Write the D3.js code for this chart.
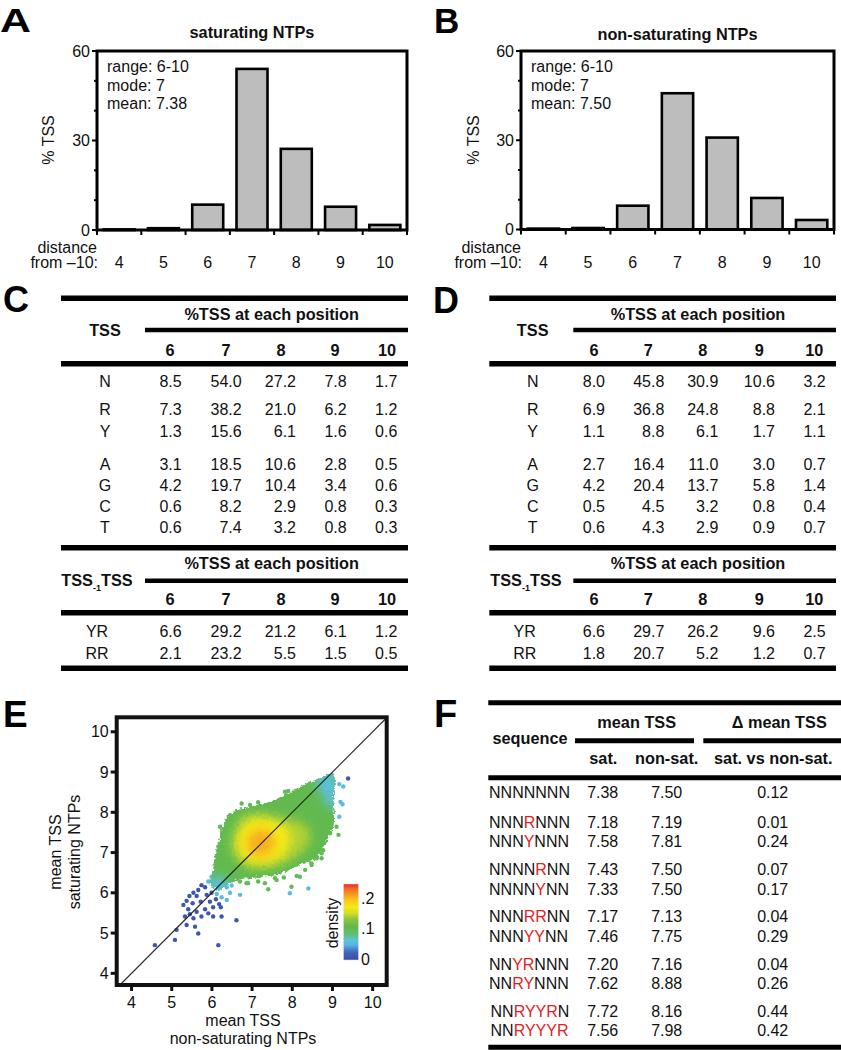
<!DOCTYPE html>
<html><head><meta charset="utf-8">
<script src="https://cdn.jsdelivr.net/npm/d3@7"></script>
<style>
body{margin:0;background:#fff;}
svg{font-family:"Liberation Sans",Arial,Helvetica,sans-serif;}
</style></head><body>
<svg id="fig" width="841" height="1050"></svg>
<script>
// ---------------- DATA ----------------
const distances = ["4","5","6","7","8","9","10"];
const satPct = [0.2, 0.6, 8.5, 54.0, 27.2, 7.8, 1.7];
const nonSatPct = [0.3, 0.5, 8.0, 45.8, 30.9, 10.6, 3.2];
const pctTicks = [0, 30, 60];
const pctMinorTicks = [10, 20, 40, 50];
const satStats = ["range: 6-10", "mode: 7", "mean: 7.38"];
const nonSatStats = ["range: 6-10", "mode: 7", "mean: 7.50"];

const positions = ["6","7","8","9","10"];
const tssBases = ["N","R","Y","A","G","C","T"];
const satTSS = [
  ["8.5","54.0","27.2","7.8","1.7"],
  ["7.3","38.2","21.0","6.2","1.2"],
  ["1.3","15.6","6.1","1.6","0.6"],
  ["3.1","18.5","10.6","2.8","0.5"],
  ["4.2","19.7","10.4","3.4","0.6"],
  ["0.6","8.2","2.9","0.8","0.3"],
  ["0.6","7.4","3.2","0.8","0.3"]
];
const nonSatTSS = [
  ["8.0","45.8","30.9","10.6","3.2"],
  ["6.9","36.8","24.8","8.8","2.1"],
  ["1.1","8.8","6.1","1.7","1.1"],
  ["2.7","16.4","11.0","3.0","0.7"],
  ["4.2","20.4","13.7","5.8","1.4"],
  ["0.5","4.5","3.2","0.8","0.4"],
  ["0.6","4.3","2.9","0.9","0.7"]
];
const dinucs = ["YR","RR"];
const satDinuc = [["6.6","29.2","21.2","6.1","1.2"],["2.1","23.2","5.5","1.5","0.5"]];
const nonSatDinuc = [["6.6","29.7","26.2","9.6","2.5"],["1.8","20.7","5.2","1.2","0.7"]];

// panel E: scatter of mean TSS (x: non-saturating, y: saturating)
const meanTicks = [4,5,6,7,8,9,10];
const densityTicks = [0, 0.1, 0.2];
const densityTickLabels = ["0", ".1", ".2"];
const densityStops = [[0,"#3d4ea1"],[0.025,"#4264b9"],[0.05,"#59b5e9"],[0.065,"#5cc5d6"],[0.085,"#5fbf72"],
  [0.11,"#63b947"],[0.135,"#8dc63f"],[0.155,"#d6de27"],[0.175,"#f5e917"],[0.2,"#f8c11b"],[0.215,"#f59a20"],
  [0.235,"#f06a24"],[0.25,"#e8262a"]];
const cloudOuter = [[9.02,8.97],[9.03,8.22],[9.02,7.64],[8.90,7.39],[8.73,7.06],[8.52,6.81],[8.27,6.73],[7.94,6.57],
  [7.61,6.44],[7.28,6.40],[6.95,6.36],[6.61,6.32],[6.37,6.19],[6.12,6.07],[5.95,6.24],[5.99,6.40],[6.03,6.57],
  [6.07,6.90],[6.20,7.39],[6.32,7.81],[6.61,8.06],[6.95,8.14],[7.28,8.22],[7.69,8.35],[8.11,8.59],[8.44,8.76],[8.77,8.88]];
const cloudOuterDensity = 0.105;
const cloudTipTop = [[8.61,8.84],[9.04,9.01],[9.06,8.06],[8.86,8.22],[8.69,8.55]];
const cloudTipBottom = [[5.91,6.32],[6.20,6.40],[6.45,6.19],[6.20,5.95],[5.95,6.07]];
const cloudTipDensity = 0.06;
const cloudLime = [[6.61,7.64],[6.78,7.89],[7.20,7.97],[7.61,7.89],[8.02,7.81],[8.36,7.64],[8.44,7.31],[8.19,6.98],
  [7.78,6.73],[7.28,6.61],[6.86,6.65],[6.57,6.90],[6.49,7.23]];
const cloudLimeDensity = 0.145;
const cloudYellow = [[6.70,7.56],[6.95,7.81],[7.28,7.85],[7.69,7.73],[7.94,7.48],[7.86,7.06],[7.53,6.77],[7.11,6.73],
  [6.78,6.86],[6.61,7.19]];
const cloudYellowDensity = 0.175;
const cloudOrange = [[6.90,7.39],[7.07,7.56],[7.32,7.58],[7.53,7.44],[7.57,7.19],[7.44,6.98],[7.24,6.90],[6.99,6.98],[6.86,7.19]];
const cloudOrangeDensity = 0.207;
const greenPoints = [[7.82,8.51],[7.90,8.53],[7.15,8.25],[6.95,8.18],[6.66,7.97],[6.45,7.93],[6.20,7.64],[7.32,6.24],
  [7.40,6.09],[7.61,6.32],[7.79,6.38],[7.98,6.15],[8.19,6.40],[8.48,6.73],[8.61,6.86],[8.73,6.98],[9.10,7.64],
  [9.15,7.44],[6.90,6.24],[6.70,6.28],[6.74,8.22],[7.44,8.14],[7.61,8.22],[6.45,7.81],[6.28,7.48],[6.16,7.15],
  [6.10,6.73],[8.94,7.48],[8.77,7.06],[8.73,6.86],[6.86,6.24],[7.15,6.28],[7.57,6.36],[8.32,6.57],[8.11,6.42],[8.48,6.69]];
const cyanPoints = [[9.17,8.70],[9.27,8.64],[9.20,8.26],[9.25,8.20],[9.17,7.89],[6.70,5.95],[7.94,5.99],[8.40,6.11],
  [6.03,6.32],[6.24,6.24],[6.37,6.14],[6.45,6.00],[6.24,5.89],[6.37,5.82],[6.12,5.97],[6.49,6.18],[5.99,6.40],[5.91,6.28]];
const bluePoints = [[9.39,8.84],[5.74,6.19],[5.83,6.14],[5.66,6.07],[5.54,6.00],[5.44,5.92],[5.62,5.92],[5.87,5.95],
  [5.99,6.00],[5.37,5.80],[5.52,5.74],[5.72,5.78],[5.95,5.78],[6.10,5.84],[6.18,5.72],[5.41,5.59],[5.62,5.53],
  [5.83,5.59],[6.03,5.64],[6.22,5.64],[5.33,5.41],[5.54,5.37],[5.74,5.41],[6.03,5.41],[6.24,5.41],[5.45,5.47],
  [5.37,5.20],[5.58,5.16],[5.12,5.08],[5.66,4.99],[5.08,4.83],[4.58,4.70],[6.16,4.70],[6.61,5.32],[5.29,5.70],[5.91,5.49]];
const greenDensity = 0.1, cyanDensity = 0.055, blueDensity = 0.01;

// panel F
const fSeqs = ["NNNNNNN","NNNRNNN","NNNYNNN","NNNNRNN","NNNNYNN","NNNRRNN","NNNYYNN","NNYRNNN","NNRYNNN","NNRYYRN","NNRYYYR"];
const fSat = ["7.38","7.18","7.58","7.43","7.33","7.17","7.46","7.20","7.62","7.72","7.56"];
const fNonSat = ["7.50","7.19","7.81","7.50","7.50","7.13","7.75","7.16","8.88","8.16","7.98"];
const fDelta = ["0.12","0.01","0.24","0.07","0.17","0.04","0.29","0.04","0.26","0.44","0.42"];

// ---------------- DRAW ----------------
const svg = d3.select("#fig");
const INK = "#111";
const FS = 16;
const FSB = 16.3;

function txt(g, x, y, s, o = {}) {
  const t = g.append("text").attr("x", x).attr("y", y).text(s)
    .attr("font-size", o.size || (o.bold ? FSB : FS)).attr("fill", o.fill || INK)
    .attr("text-anchor", o.anchor || "start");
  if (o.bold) t.attr("font-weight", "bold");
  if (o.baseline) t.attr("dominant-baseline", o.baseline);
  return t;
}
function hline(g, x1, x2, y, w) {
  g.append("line").attr("x1", x1).attr("x2", x2).attr("y1", y).attr("y2", y)
    .attr("stroke", "#000").attr("stroke-width", w);
}

// panel letters
[["A",0,31.5,34],["B",434,32.5,35],["C",3,311.5,36],["D",433,312.5,36],["E",3,726.5,37],["F",434,726.5,38]]
  .forEach(([L,x,y,s]) => {
    const t = txt(svg, x, y, L, {size: s, bold: true, fill: "#000"});
    if (L === "A") t.attr("textLength", 31).attr("lengthAdjust", "spacingAndGlyphs");
  });

// ---- Histograms A, B ----
function drawHist(o) {
  const g = svg.append("g");
  const x = d3.scaleBand().domain(distances).range([o.l, o.r]).paddingInner(0.3).paddingOuter(0.15);
  const y = d3.scaleLinear().domain([0, 60]).range([o.b, o.t]);
  const step = x.step();
  g.selectAll("rect.bar").data(o.values).join("rect")
    .attr("x", (d, i) => x(distances[i])).attr("width", x.bandwidth())
    .attr("y", d => y(d)).attr("height", d => o.b - y(d))
    .attr("fill", "#bdbdbd").attr("stroke", "#000").attr("stroke-width", 2.6);
  g.append("rect").attr("x", o.l).attr("y", o.t).attr("width", o.r - o.l).attr("height", o.b - o.t)
    .attr("fill", "none").attr("stroke", "#000").attr("stroke-width", 3);
  pctTicks.forEach(t => {
    g.append("line").attr("x1", o.l - 5).attr("x2", o.l).attr("y1", y(t)).attr("y2", y(t)).attr("stroke", "#000").attr("stroke-width", 2);
    txt(g, o.l - 7, y(t), String(t), {anchor: "end", baseline: "central"});
  });
  pctMinorTicks.forEach(t => {
    g.append("line").attr("x1", o.l - 3).attr("x2", o.l).attr("y1", y(t)).attr("y2", y(t)).attr("stroke", "#000").attr("stroke-width", 2);
  });
  d3.range(distances.length + 1).forEach(i => {
    const xx = o.l + i * step;
    g.append("line").attr("x1", xx).attr("x2", xx).attr("y1", o.b).attr("y2", o.b + 5).attr("stroke", "#000").attr("stroke-width", 2);
  });
  distances.forEach(d => txt(g, x(d) + x.bandwidth() / 2, 268, d, {anchor: "middle"}));
  txt(g, o.l, 253, "distance", {anchor: "end"});
  txt(g, o.l + 1, 268, "from \u201310:", {anchor: "end"});
  txt(g, (o.l + o.r) / 2, o.titleY, o.title, {anchor: "middle", bold: true});
  g.append("text").attr("transform", `translate(${o.ylabX},140) rotate(-90)`)
    .attr("text-anchor", "middle").attr("dominant-baseline", "central")
    .attr("font-size", FS).attr("fill", INK).text("% TSS");
  o.stats.forEach((s, i) => txt(g, o.l + 10, 72 + i * 18.5, s));
}
drawHist({l: 97, r: 407, t: 51, b: 230, values: satPct, title: "saturating NTPs", titleY: 37.5, ylabX: 48, stats: satStats});
drawHist({l: 521, r: 834, t: 51, b: 229.5, values: nonSatPct, title: "non-saturating NTPs", titleY: 39.5, ylabX: 473, stats: nonSatStats});

// ---- Tables C, D ----
function drawTable(o, main, di) {
  const g = svg.append("g");
  hline(g, o.l, o.r, 298.3, 5.5);
  hline(g, o.sub, o.r, 330, 4.5);
  hline(g, o.l, o.r, 363.7, 5.5);
  hline(g, o.l, o.r, 547.7, 5.5);
  hline(g, o.sub, o.r, 580.7, 4.5);
  hline(g, o.l, o.r, 612.7, 5.5);
  hline(g, o.l, o.r, 668.3, 5.5);
  const colC = d3.scaleOrdinal().domain(positions).range(o.cols);
  const colR = d3.scaleOrdinal().domain(positions).range(o.rights);
  txt(g, o.hdr, 320, "%TSS at each position", {anchor: "middle", bold: true});
  txt(g, o.hdr, 569.3, "%TSS at each position", {anchor: "middle", bold: true});
  txt(g, o.lab, 335.7, "TSS", {anchor: "middle", bold: true});
  const t2 = g.append("text").attr("x", o.lab2).attr("y", 586).attr("text-anchor", "middle")
    .attr("font-size", FSB).attr("font-weight", "bold").attr("fill", INK);
  t2.append("tspan").text("TSS");
  t2.append("tspan").attr("font-size", 9).attr("dy", 5).text("-1");
  t2.append("tspan").attr("dy", -5).text("TSS");
  positions.forEach(p => {
    txt(g, colC(p), 356, p, {anchor: "middle", bold: true});
    txt(g, colC(p), 605, p, {anchor: "middle", bold: true});
  });
  const rowY = [386.7, 414.7, 436.7, 470, 491.3, 512.3, 533.3];
  tssBases.forEach((b, i) => {
    txt(g, o.lab, rowY[i], b, {anchor: "middle"});
    positions.forEach((p, j) => txt(g, colR(p), rowY[i], main[i][j], {anchor: "end"}));
  });
  const rowY2 = [636.7, 659];
  dinucs.forEach((b, i) => {
    txt(g, o.lab - 8, rowY2[i], b, {anchor: "middle"});
    positions.forEach((p, j) => txt(g, colR(p), rowY2[i], di[i][j], {anchor: "end"}));
  });
}
drawTable({l: 61, r: 408, sub: 145, hdr: 271.7, lab: 105, lab2: 97,
  cols: [170, 226, 281, 335, 387], rights: [181.7, 241.7, 296, 346.7, 397.3]}, satTSS, satDinuc);
drawTable({l: 489.3, r: 836, sub: 573.3, hdr: 698, lab: 532.7, lab2: 526,
  cols: [594, 648.3, 702.7, 759.3, 814.3], rights: [605, 664.3, 718.3, 775, 825.7]}, nonSatTSS, nonSatDinuc);

// ---- Scatter E ----
(function () {
  const g = svg.append("g");
  const L = 116.7, R = 386.7, T = 717.3, B = 985;
  const x = d3.scaleLinear().domain([3.63, 10.35]).range([L, R]);
  const y = d3.scaleLinear().domain([3.71, 10.36]).range([B, T]);
  const col = d3.scaleLinear().domain(densityStops.map(d => d[0])).range(densityStops.map(d => d[1])).clamp(true);
  const defs = svg.append("defs");
  defs.append("clipPath").attr("id", "frameClip").append("rect").attr("x", L).attr("y", T).attr("width", R - L).attr("height", B - T);
  const line = d3.line().x(d => x(d[0])).y(d => y(d[1])).curve(d3.curveCatmullRomClosed.alpha(0.5));
  defs.append("clipPath").attr("id", "cloudClip").append("path").attr("d", line(cloudOuter));
  defs.append("filter").attr("id", "blur").attr("x", "-50%").attr("y", "-50%").attr("width", "200%").attr("height", "200%")
    .append("feGaussianBlur").attr("stdDeviation", 5);
  const rough = defs.append("filter").attr("id", "rough").attr("x", "-10%").attr("y", "-10%").attr("width", "120%").attr("height", "120%");
  rough.append("feTurbulence").attr("type", "fractalNoise").attr("baseFrequency", 0.35).attr("numOctaves", 2).attr("seed", 3).attr("result", "n");
  rough.append("feDisplacementMap").attr("in", "SourceGraphic").attr("in2", "n").attr("scale", 6)
    .attr("xChannelSelector", "R").attr("yChannelSelector", "G");

  const sg = g.append("g").attr("clip-path", "url(#frameClip)");
  const pts = [].concat(bluePoints.map(p => [p[0], p[1], blueDensity]),
                        cyanPoints.map(p => [p[0], p[1], cyanDensity]),
                        greenPoints.map(p => [p[0], p[1], greenDensity]));
  sg.selectAll("circle.pt").data(pts).join("circle")
    .attr("cx", d => x(d[0])).attr("cy", d => y(d[1])).attr("r", 2.2).attr("fill", d => col(d[2]));
  const cloud = sg.append("g").attr("filter", "url(#rough)");
  cloud.append("path").attr("d", line(cloudOuter)).attr("fill", col(cloudOuterDensity));
  const inner = cloud.append("g").attr("clip-path", "url(#cloudClip)");
  const ig = inner.append("g").attr("filter", "url(#blur)");
  [[cloudTipTop, cloudTipDensity], [cloudTipBottom, cloudTipDensity], [cloudLime, cloudLimeDensity],
   [cloudYellow, cloudYellowDensity], [cloudOrange, cloudOrangeDensity]].forEach(([poly, dv]) => {
    ig.append("path").attr("d", line(poly)).attr("fill", col(dv));
  });
  const lo = Math.max(x.domain()[0], y.domain()[0]), hi = Math.min(x.domain()[1], y.domain()[1]);
  sg.append("line").attr("x1", x(lo)).attr("y1", y(lo)).attr("x2", x(hi)).attr("y2", y(hi))
    .attr("stroke", "#222").attr("stroke-width", 1.1);
  g.append("rect").attr("x", L).attr("y", T).attr("width", R - L).attr("height", B - T)
    .attr("fill", "none").attr("stroke", "#111").attr("stroke-width", 4);
  meanTicks.forEach(t => {
    g.append("line").attr("x1", L - 6).attr("x2", L).attr("y1", y(t)).attr("y2", y(t)).attr("stroke", "#111").attr("stroke-width", 3);
    txt(g, L - 8, y(t), String(t), {anchor: "end", baseline: "central"});
    g.append("line").attr("x1", x(t)).attr("x2", x(t)).attr("y1", B).attr("y2", B + 6).attr("stroke", "#111").attr("stroke-width", 3);
    txt(g, x(t), 1007.5, String(t), {anchor: "middle"});
  });
  txt(g, 243, 1025.5, "mean TSS", {anchor: "middle"});
  txt(g, 243, 1043.5, "non-saturating NTPs", {anchor: "middle"});
  [["mean TSS", 55], ["saturating NTPs", 74]].forEach(([s, xx]) => {
    g.append("text").attr("transform", `translate(${xx},852) rotate(-90)`).attr("text-anchor", "middle")
      .attr("dominant-baseline", "central").attr("font-size", FS).attr("fill", INK).text(s);
  });
  const cb = d3.scaleLinear().domain([0, 0.25]).range([960, 884]);
  const grad = defs.append("linearGradient").attr("id", "cbGrad").attr("x1", 0).attr("x2", 0).attr("y1", 1).attr("y2", 0);
  densityStops.forEach(([v, c]) => grad.append("stop").attr("offset", v / 0.25).attr("stop-color", c));
  g.append("rect").attr("x", 343.5).attr("y", cb(0.25)).attr("width", 15).attr("height", cb(0) - cb(0.25))
    .attr("fill", "url(#cbGrad)").attr("stroke", "#ddd").attr("stroke-width", 0.5);
  densityTicks.forEach((t, i) => txt(g, 361, cb(t) - 1, densityTickLabels[i], {baseline: "central"}));
  g.append("text").attr("transform", "translate(332,923) rotate(-90)").attr("text-anchor", "middle")
    .attr("dominant-baseline", "central").attr("font-size", FS).attr("fill", INK).text("density");
})();

// ---- Table F ----
(function () {
  const g = svg.append("g");
  hline(g, 488.3, 841, 702.7, 5);
  hline(g, 575, 694, 740.7, 5);
  hline(g, 703.3, 841, 740.7, 5);
  hline(g, 488.3, 841, 777.7, 5);
  hline(g, 488.3, 841, 1047.3, 5);
  txt(g, 636.7, 728, "mean TSS", {anchor: "middle", bold: true});
  txt(g, 779.3, 728, "\u0394 mean TSS", {anchor: "middle", bold: true});
  txt(g, 530, 744.3, "sequence", {anchor: "middle", bold: true});
  txt(g, 603.3, 764.3, "sat.", {anchor: "middle", bold: true});
  txt(g, 666.7, 764.3, "non-sat.", {anchor: "middle", bold: true});
  txt(g, 773.3, 764.3, "sat. vs non-sat.", {anchor: "middle", bold: true});
  const rowY = [798, 828.3, 847, 875, 894.7, 922.3, 941.7, 969.7, 989, 1017, 1036];
  fSeqs.forEach((s, i) => {
    const t = g.append("text").attr("x", i >= 9 ? 490.5 : 489).attr("y", rowY[i]).attr("font-size", FS);
    s.split("").forEach(c => t.append("tspan").attr("fill", c === "N" ? INK : "#e31e24").text(c));
    txt(g, 602.7, rowY[i], fSat[i], {anchor: "middle"});
    txt(g, 666.7, rowY[i], fNonSat[i], {anchor: "middle"});
    txt(g, 772.7, rowY[i], fDelta[i], {anchor: "middle"});
  });
})();
</script>
</body></html>
